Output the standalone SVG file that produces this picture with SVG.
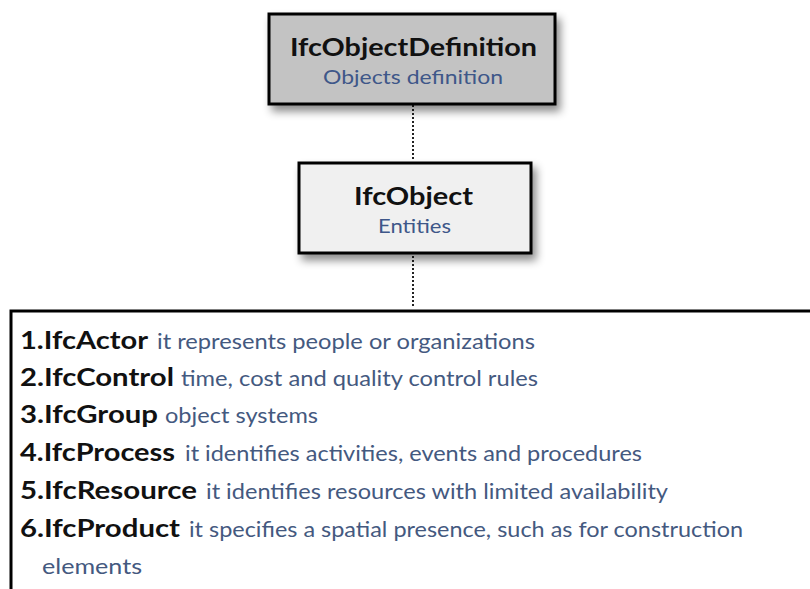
<svg xmlns="http://www.w3.org/2000/svg" width="810" height="589" viewBox="0 0 810 589">
  <defs>
    <filter id="shadow" x="-10%" y="-10%" width="130%" height="140%">
      <feDropShadow dx="4" dy="6" stdDeviation="4" flood-color="#000" flood-opacity="0.45"/>
    </filter>
  </defs>
  <style>
    .box { stroke: #000; stroke-width: 3; }
    .title { font-family: Lato, "Open Sans", sans-serif; font-weight: bold; font-size: 24px; fill: #111; }
    .sub { font-family: Lato, "Open Sans", sans-serif; font-size: 20px; fill: #3e5789; }
    .b { font-family: Lato, "Open Sans", sans-serif; font-weight: bold; font-size: 25px; fill: #111; }
    .d { font-family: Lato, "Open Sans", sans-serif; font-size: 21px; fill: #44597f; }
    .conn { stroke: #222; stroke-width: 2; stroke-dasharray: 2 2; fill: none; }
  </style>
  <rect width="810" height="589" fill="#fff"/>

  <g id="connectors">
    <line class="conn" x1="413" y1="105" x2="413" y2="161"/>
    <line class="conn" x1="413" y1="256" x2="413" y2="308"/>
  </g>

  <g id="ifcObjectDefinition">
    <rect class="box" x="269" y="14" width="286" height="90" fill="#c3c3c3" filter="url(#shadow)"/>
    <text class="title" x="290" y="56" textLength="247" lengthAdjust="spacingAndGlyphs">IfcObjectDefinition</text>
    <text class="sub" x="323" y="84" textLength="180" lengthAdjust="spacingAndGlyphs">Objects definition</text>
  </g>

  <g id="ifcObject">
    <rect class="box" x="299" y="163" width="232" height="90" fill="#f0f0f0" filter="url(#shadow)"/>
    <text class="title" x="354" y="205" textLength="119" lengthAdjust="spacingAndGlyphs">IfcObject</text>
    <text class="sub" x="378" y="233" textLength="73" lengthAdjust="spacingAndGlyphs">Entities</text>
  </g>

  <g id="entityList">
    <path class="box" d="M 11 600 L 11 311 L 815 311" fill="#fff"/>
    <text class="b" x="20" y="349" textLength="128" lengthAdjust="spacingAndGlyphs">1.IfcActor</text>
    <text class="d" x="157" y="349" textLength="378" lengthAdjust="spacingAndGlyphs">it represents people or organizations</text>
    <text class="b" x="20" y="386" textLength="154" lengthAdjust="spacingAndGlyphs">2.IfcControl</text>
    <text class="d" x="181" y="386" textLength="357" lengthAdjust="spacingAndGlyphs">time, cost and quality control rules</text>
    <text class="b" x="20" y="423" textLength="138" lengthAdjust="spacingAndGlyphs">3.IfcGroup</text>
    <text class="d" x="165" y="423" textLength="153" lengthAdjust="spacingAndGlyphs">object systems</text>
    <text class="b" x="20" y="461" textLength="155" lengthAdjust="spacingAndGlyphs">4.IfcProcess</text>
    <text class="d" x="185" y="461" textLength="457" lengthAdjust="spacingAndGlyphs">it identifies activities, events and procedures</text>
    <text class="b" x="20" y="499" textLength="177" lengthAdjust="spacingAndGlyphs">5.IfcResource</text>
    <text class="d" x="206" y="499" textLength="462" lengthAdjust="spacingAndGlyphs">it identifies resources with limited availability</text>
    <text class="b" x="20" y="537" textLength="160" lengthAdjust="spacingAndGlyphs">6.IfcProduct</text>
    <text class="d" x="189" y="537" textLength="554" lengthAdjust="spacingAndGlyphs">it specifies a spatial presence, such as for construction</text>
    <text class="d" x="42" y="574" textLength="100" lengthAdjust="spacingAndGlyphs">elements</text>
  </g>
</svg>
